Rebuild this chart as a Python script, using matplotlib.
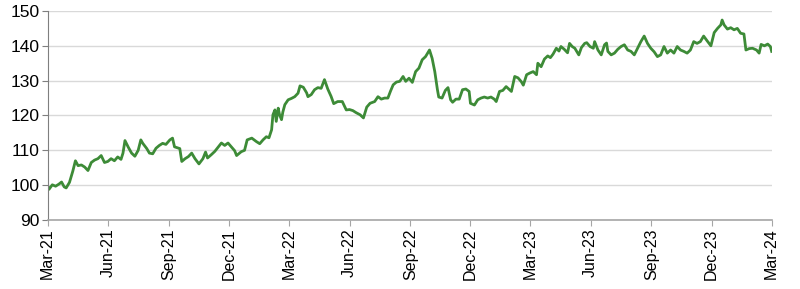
import matplotlib
matplotlib.use("Agg")
import matplotlib.pyplot as plt
import matplotlib.dates as mdates
import numpy as np
import pandas as pd

plt.rcParams['font.family'] = ['Liberation Sans', 'DejaVu Sans']

# index level (approx. every few days)
dates = [
    "2021-03-01", "2021-03-03", "2021-03-08", "2021-03-13", "2021-03-18", "2021-03-22",
    "2021-03-26", "2021-03-29", "2021-04-03", "2021-04-08", "2021-04-12", "2021-04-16",
    "2021-04-21", "2021-04-26", "2021-05-01", "2021-05-06", "2021-05-11", "2021-05-16",
    "2021-05-21", "2021-05-26", "2021-05-31", "2021-06-05", "2021-06-10", "2021-06-15",
    "2021-06-20", "2021-06-23", "2021-06-26", "2021-07-01", "2021-07-06", "2021-07-11",
    "2021-07-16", "2021-07-20", "2021-07-23", "2021-07-29", "2021-08-02", "2021-08-07",
    "2021-08-12", "2021-08-17", "2021-08-22", "2021-08-27", "2021-09-02", "2021-09-06",
    "2021-09-09", "2021-09-14", "2021-09-17", "2021-09-20", "2021-09-25", "2021-09-30",
    "2021-10-05", "2021-10-10", "2021-10-16", "2021-10-22", "2021-10-26", "2021-10-29",
    "2021-11-04", "2021-11-09", "2021-11-14", "2021-11-19", "2021-11-24", "2021-11-29",
    "2021-12-04", "2021-12-09", "2021-12-12", "2021-12-19", "2021-12-24", "2021-12-28",
    "2022-01-04", "2022-01-11", "2022-01-16", "2022-01-21", "2022-01-26", "2022-01-30",
    "2022-02-03", "2022-02-05", "2022-02-08", "2022-02-10", "2022-02-13", "2022-02-15",
    "2022-02-18", "2022-02-20", "2022-02-23", "2022-02-28", "2022-03-05", "2022-03-10",
    "2022-03-15", "2022-03-18", "2022-03-23", "2022-03-28", "2022-03-30", "2022-04-04",
    "2022-04-09", "2022-04-14", "2022-04-19", "2022-04-24", "2022-04-29", "2022-05-04",
    "2022-05-08", "2022-05-14", "2022-05-21", "2022-05-27", "2022-06-01", "2022-06-06",
    "2022-06-11", "2022-06-17", "2022-06-22", "2022-06-27", "2022-07-02", "2022-07-09",
    "2022-07-14", "2022-07-19", "2022-07-24", "2022-07-29", "2022-08-02", "2022-08-06",
    "2022-08-11", "2022-08-16", "2022-08-21", "2022-08-25", "2022-08-30", "2022-09-04",
    "2022-09-09", "2022-09-14", "2022-09-19", "2022-09-24", "2022-09-30", "2022-10-04",
    "2022-10-08", "2022-10-12", "2022-10-14", "2022-10-19", "2022-10-24", "2022-10-28",
    "2022-11-01", "2022-11-04", "2022-11-09", "2022-11-14", "2022-11-19", "2022-11-24",
    "2022-11-29", "2022-12-01", "2022-12-07", "2022-12-12", "2022-12-17", "2022-12-22",
    "2022-12-27", "2023-01-01", "2023-01-06", "2023-01-09", "2023-01-14", "2023-01-19",
    "2023-01-24", "2023-02-01", "2023-02-06", "2023-02-11", "2023-02-16", "2023-02-19",
    "2023-02-24", "2023-03-01", "2023-03-06", "2023-03-11", "2023-03-13", "2023-03-18",
    "2023-03-23", "2023-03-28", "2023-04-01", "2023-04-05", "2023-04-10", "2023-04-14",
    "2023-04-17", "2023-04-22", "2023-04-27", "2023-04-30", "2023-05-04", "2023-05-08",
    "2023-05-14", "2023-05-18", "2023-05-23", "2023-05-26", "2023-05-31", "2023-06-05",
    "2023-06-07", "2023-06-12", "2023-06-17", "2023-06-22", "2023-06-25", "2023-06-27",
    "2023-07-02", "2023-07-07", "2023-07-12", "2023-07-17", "2023-07-22", "2023-07-27",
    "2023-08-01", "2023-08-06", "2023-08-11", "2023-08-16", "2023-08-21", "2023-08-26",
    "2023-08-31", "2023-09-05", "2023-09-10", "2023-09-15", "2023-09-20", "2023-09-25",
    "2023-09-30", "2023-10-05", "2023-10-10", "2023-10-15", "2023-10-20", "2023-10-25",
    "2023-10-30", "2023-11-04", "2023-11-09", "2023-11-14", "2023-11-19", "2023-11-24",
    "2023-11-30", "2023-12-05", "2023-12-10", "2023-12-15", "2023-12-17", "2023-12-20",
    "2023-12-25", "2023-12-30", "2024-01-04", "2024-01-09", "2024-01-14", "2024-01-19",
    "2024-01-22", "2024-01-27", "2024-02-01", "2024-02-07", "2024-02-11", "2024-02-14",
    "2024-02-19", "2024-02-24", "2024-02-28", "2024-03-01",
]
values = [
    99.8, 98.8, 100.1, 99.7, 100.3, 100.9,
    99.5, 99.2, 100.8, 104.0, 107.0, 105.6,
    105.8, 105.2, 104.2, 106.5, 107.2, 107.6,
    108.5, 106.5, 106.8, 107.6, 107.0, 108.1,
    107.4, 109.2, 112.8, 110.9, 109.2, 108.3,
    110.0, 113.0, 112.0, 110.5, 109.2, 109.0,
    110.6, 111.4, 112.0, 111.7, 113.0, 113.5,
    111.0, 110.7, 110.5, 106.8, 107.6, 108.2,
    109.2, 107.6, 106.1, 107.6, 109.5, 107.8,
    108.8, 109.7, 110.9, 112.1, 111.4, 112.1,
    111.0, 109.9, 108.5, 109.6, 110.0, 113.0,
    113.5, 112.5, 111.9, 113.0, 113.9, 113.6,
    115.9, 120.2, 121.6, 118.3, 122.1, 120.2,
    118.8, 121.0, 123.1, 124.5, 124.9, 125.4,
    126.4, 128.5, 128.1, 126.5, 125.4, 126.0,
    127.4, 128.0, 127.8, 130.3, 127.6, 125.5,
    123.4, 124.0, 124.0, 121.6, 121.7, 121.4,
    120.8, 120.2, 119.3, 122.4, 123.5, 124.0,
    125.4, 124.7, 125.0, 125.0, 127.0, 128.8,
    129.6, 129.8, 131.2, 129.8, 130.7, 129.5,
    132.6, 133.6, 136.0, 136.9, 138.8, 136.4,
    132.6, 127.4, 125.3, 125.0, 127.2, 128.0,
    124.5, 123.8, 124.7, 124.7, 127.4, 127.6,
    126.9, 123.5, 123.0, 124.5, 125.0, 125.3,
    125.0, 125.3, 124.7, 124.0, 126.9, 127.2,
    128.3, 126.9, 131.2, 130.8, 129.7, 128.7,
    131.7, 132.2, 132.6, 131.7, 135.0, 134.0,
    136.2, 137.1, 136.6, 137.6, 139.3, 138.5,
    139.8, 139.0, 138.0, 140.7, 139.8, 139.3,
    137.4, 139.5, 140.7, 140.9, 139.8, 139.3,
    141.2, 138.8, 137.4, 140.3, 140.8, 138.4,
    137.4, 137.9, 139.0, 139.8, 140.3, 138.8,
    138.4, 137.4, 139.3, 141.2, 142.8, 140.7,
    139.3, 138.3, 136.9, 137.4, 139.8, 137.9,
    138.8, 137.9, 139.8, 138.8, 138.4, 137.9,
    138.8, 141.2, 140.7, 141.2, 142.8, 141.5,
    140.0, 143.8, 145.0, 146.0, 147.4, 146.0,
    144.8, 145.2, 144.6, 145.0, 143.6, 143.4,
    138.8, 139.2, 139.3, 138.8, 137.9, 140.4,
    140.0, 140.5, 139.8, 138.4,
]
y_ticks = [90, 100, 110, 120, 130, 140, 150]


def main():
    x = pd.to_datetime(dates)
    fig = plt.figure(figsize=(8, 2.89), dpi=100)
    ax = fig.add_axes([0.0596, 0.2388, 0.905, 0.7232])

    ax.plot(x, values, color='#3d8b37', linewidth=2.0)

    ax.set_xlim(pd.Timestamp("2021-03-01"), pd.Timestamp("2024-03-01"))
    ax.set_ylim(90, 150)
    ax.set_yticks(y_ticks)
    ax.yaxis.grid(True, color='#d9d9d9', linewidth=1.0)
    ax.set_axisbelow(True)

    ax.xaxis.set_major_locator(mdates.MonthLocator(bymonth=[3, 6, 9, 12]))
    ax.xaxis.set_major_formatter(mdates.DateFormatter('%b-%y'))
    plt.setp(ax.get_xticklabels(), rotation=90)

    for side in ['top', 'right']:
        ax.spines[side].set_visible(False)
    ax.spines['left'].set_color('#7f7f7f')
    ax.spines['bottom'].set_color('#a6a6a6')
    ax.spines['bottom'].set_linewidth(1.2)
    ax.tick_params(axis='y', length=4, color='#7f7f7f', labelsize=12.5, pad=2)
    ax.tick_params(axis='x', length=4, color='#a6a6a6', labelsize=11.5, pad=2)

    fig.savefig('out.png', dpi=100)


if __name__ == '__main__':
    main()
